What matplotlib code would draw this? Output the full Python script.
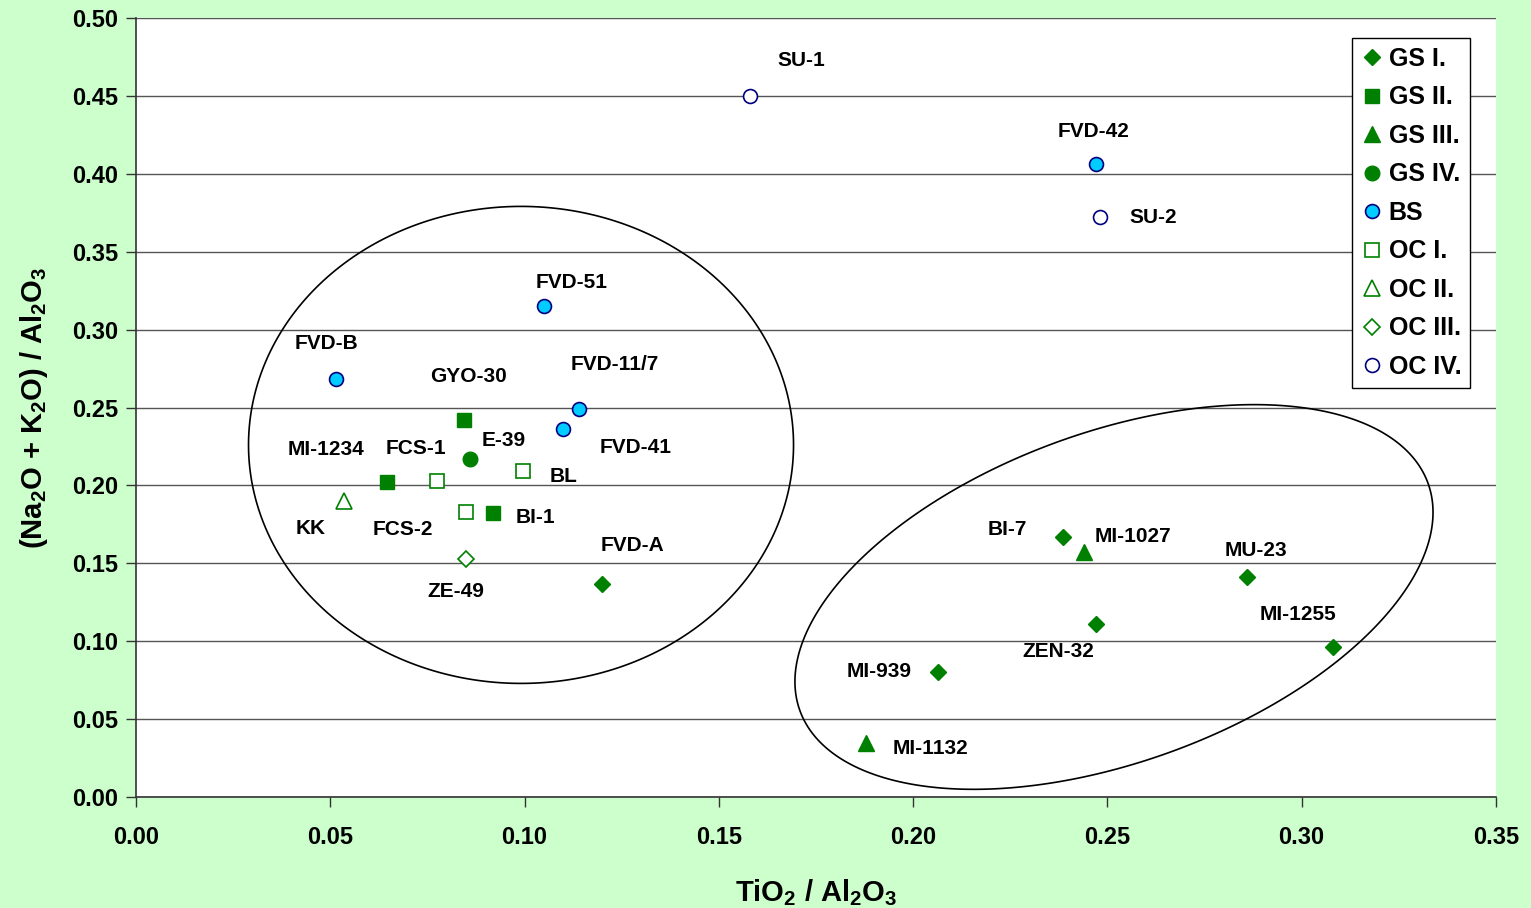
import numpy as np
import matplotlib
matplotlib.use("Agg")
import matplotlib.pyplot as plt
from matplotlib.patches import Polygon

plt.rcParams['font.family'] = ['Liberation Sans', 'DejaVu Sans']
plt.rcParams['font.weight'] = 'bold'
plt.rcParams['mathtext.fontset'] = 'custom'
plt.rcParams['mathtext.rm'] = 'Liberation Sans:bold'
plt.rcParams['mathtext.it'] = 'Liberation Sans:bold'
plt.rcParams['mathtext.bf'] = 'Liberation Sans:bold'

# samples: name, TiO2/Al2O3, (Na2O+K2O)/Al2O3, group
names = ['SU-1', 'SU-2', 'FVD-42', 'FVD-51', 'FVD-B', 'FVD-11/7', 'FVD-41',
         'GYO-30', 'E-39', 'BL', 'FCS-1', 'MI-1234', 'KK', 'FCS-2', 'BI-1',
         'ZE-49', 'FVD-A', 'BI-7', 'MI-1027', 'MU-23', 'ZEN-32', 'MI-1255',
         'MI-939', 'MI-1132']
tio2 = [0.158, 0.248, 0.247, 0.105, 0.0515, 0.114, 0.110,
        0.0845, 0.086, 0.0995, 0.0775, 0.0645, 0.0535, 0.085, 0.092,
        0.085, 0.120, 0.2385, 0.244, 0.286, 0.247, 0.308,
        0.2065, 0.188]
alk = [0.450, 0.372, 0.406, 0.315, 0.268, 0.249, 0.236,
       0.242, 0.217, 0.209, 0.203, 0.202, 0.190, 0.183, 0.182,
       0.153, 0.137, 0.167, 0.157, 0.141, 0.111, 0.096,
       0.080, 0.035]
groups = ['OC IV.', 'OC IV.', 'BS', 'BS', 'BS', 'BS', 'BS',
          'GS II.', 'GS IV.', 'OC I.', 'OC I.', 'GS II.', 'OC II.', 'OC I.', 'GS II.',
          'OC III.', 'GS I.', 'GS I.', 'GS III.', 'GS I.', 'GS I.', 'GS I.',
          'GS I.', 'GS III.']

# label offsets in pixels (dx right, dy up)
label_off = {
    'SU-1': (51, 35), 'SU-2': (54, 0), 'FVD-42': (-2, 33), 'FVD-51': (28, 24),
    'FVD-B': (-10, 36), 'FVD-11/7': (36, 45), 'FVD-41': (72, -18),
    'GYO-30': (4, 43), 'E-39': (34, 18), 'BL': (41, -5), 'FCS-1': (-21, 32),
    'MI-1234': (-61, 33), 'KK': (-33, -28), 'FCS-2': (-63, -18), 'BI-1': (42, -4),
    'ZE-49': (-10, -33), 'FVD-A': (30, 38), 'BI-7': (-55, 7), 'MI-1027': (49, 16),
    'MU-23': (9, 27), 'ZEN-32': (-37, -27), 'MI-1255': (-35, 33),
    'MI-939': (-59, 1), 'MI-1132': (64, -6),
}

green = '#008000'
styles = {
    'GS I.':   dict(marker='D', ms=8.5, mfc=green, mec=green),
    'GS II.':  dict(marker='s', ms=10.5, mfc=green, mec=green),
    'GS III.': dict(marker='^', ms=11, mfc=green, mec=green),
    'GS IV.':  dict(marker='o', ms=10.5, mfc=green, mec=green),
    'BS':      dict(marker='o', ms=10, mfc='#00CCFF', mec='#000080', mew=1.2),
    'OC I.':   dict(marker='s', ms=10.5, mfc='white', mec=green, mew=1.2),
    'OC II.':  dict(marker='^', ms=11, mfc='white', mec=green, mew=1.2),
    'OC III.': dict(marker='D', ms=8.5, mfc='white', mec=green, mew=1.2),
    'OC IV.':  dict(marker='o', ms=10, mfc='white', mec='#000080', mew=1.2),
}

fig = plt.figure(figsize=(15.31, 9.08), dpi=100)
fig.patch.set_facecolor('#CCFFCC')
ax = fig.add_axes([0.0888, 0.1222, 0.8883, 0.8580])
ax.set_facecolor('white')

tio2 = np.array(tio2)
alk = np.array(alk)
groups = np.array(groups)
for g, st in styles.items():
    m = groups == g
    ax.plot(tio2[m], alk[m], ls='none', label=g, **st, zorder=3)

for n, x, y in zip(names, tio2, alk):
    dx, dy = label_off[n]
    ax.annotate(n, (x, y), xytext=(dx, dy), textcoords='offset pixels',
                ha='center', va='center', fontsize=15, fontweight='bold')

ax.set_xlim(0, 0.35)
ax.set_ylim(0, 0.5)
ax.set_xticks(np.arange(0, 0.351, 0.05))
ax.set_yticks(np.arange(0, 0.501, 0.05))
ax.xaxis.set_major_formatter(matplotlib.ticker.FormatStrFormatter('%.2f'))
ax.yaxis.set_major_formatter(matplotlib.ticker.FormatStrFormatter('%.2f'))
ax.tick_params(labelsize=17, length=7, width=1, color='#333333')
ax.tick_params(axis='x', pad=14)
ax.tick_params(axis='y', pad=6)
ax.yaxis.grid(True, color='#555555', lw=1)
ax.set_axisbelow(True)
for s in ['top', 'right']:
    ax.spines[s].set_visible(False)
for s in ['left', 'bottom']:
    ax.spines[s].set_color('#333333')
    ax.spines[s].set_linewidth(1.2)

ax.set_xlabel('TiO$_2$ / Al$_2$O$_3$', fontsize=21, fontweight='bold', labelpad=20)
ax.set_ylabel('(Na$_2$O + K$_2$O) / Al$_2$O$_3$', fontsize=21, fontweight='bold', labelpad=16)

# grouping ellipses, sized in screen pixels
fig.canvas.draw()
bb = ax.get_window_extent()
sx = 0.35 / bb.width
sy = 0.5 / bb.height
t = np.linspace(0, 2 * np.pi, 720, endpoint=False) + 2.0
for cx, cy, a, b, ang in [(0.0991, 0.226, 272.5, 238.5, 0.0),
                          (0.2517, 0.1284, 334, 165, 19.9)]:
    th = np.radians(ang)
    px = a * np.cos(t) * np.cos(th) - b * np.sin(t) * np.sin(th)
    py = a * np.cos(t) * np.sin(th) + b * np.sin(t) * np.cos(th)
    pts = np.column_stack([cx + px * sx, cy + py * sy])
    ax.add_patch(Polygon(pts, closed=True, fill=False, edgecolor='black',
                         lw=1.2, zorder=2))

leg = ax.legend(loc='upper right', bbox_to_anchor=(0.981, 0.974), fontsize=18,
                frameon=True, fancybox=False, edgecolor='black', framealpha=1,
                handletextpad=0.2, handlelength=0.9, borderpad=0.35,
                labelspacing=0.58, borderaxespad=0)
leg.get_frame().set_linewidth(1)
for txt in leg.get_texts():
    txt.set_fontweight('bold')

fig.savefig('out.png', dpi=100, facecolor=fig.get_facecolor())
